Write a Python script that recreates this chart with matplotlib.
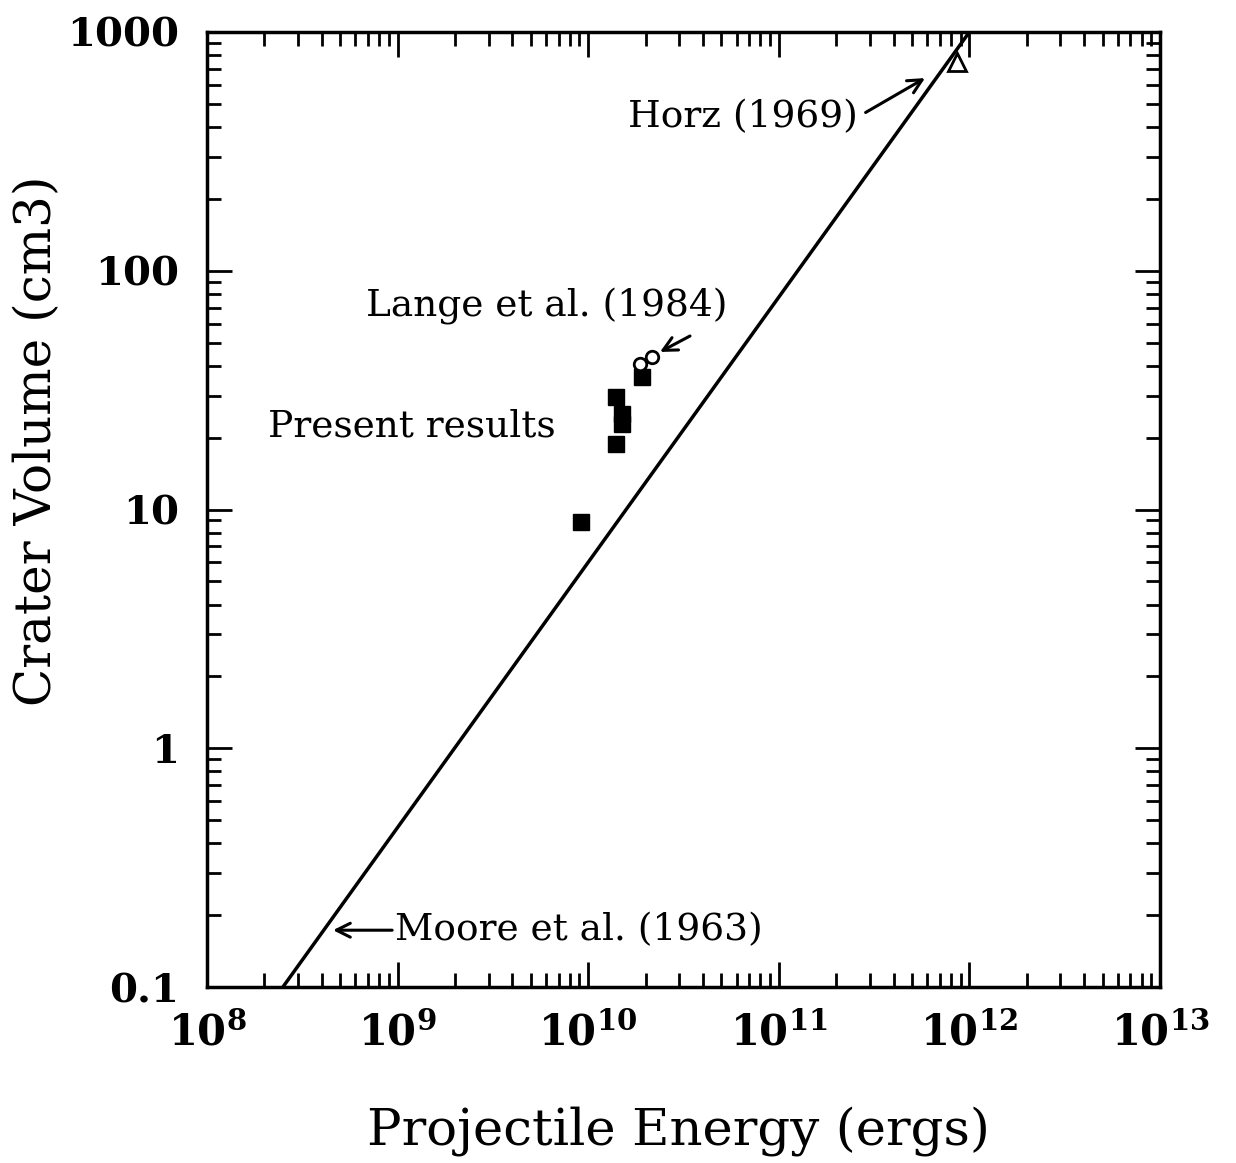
import numpy as np
import matplotlib
matplotlib.use('Agg')
import matplotlib.pyplot as plt
from matplotlib.ticker import LogLocator, FixedLocator, FixedFormatter, NullFormatter

plt.rcParams['font.family'] = 'DejaVu Serif'
plt.rcParams['mathtext.fontset'] = 'dejavuserif'

# present results (filled squares)
present_energy = [9.16e9, 1.40e10, 1.50e10, 1.50e10, 1.40e10, 1.91e10]
present_volume = [8.86, 29.7, 25.1, 22.8, 18.8, 36.0]

# Lange et al. (1984) (open circles)
lange_energy = [1.87e10, 2.15e10]
lange_volume = [40.6, 43.6]

# Horz (1969) (open triangle)
horz_energy = [8.6e11]
horz_volume = [750]

# Moore et al. (1963) line
moore_energy = [2.5e8, 1.0e12]
moore_volume = [0.1, 1000]

ytick_vals = [0.1, 1, 10, 100, 1000]
ytick_labels = ['0.1', '1', '10', '100', '1000']

fig = plt.figure(figsize=(12.36, 11.63), dpi=100)
ax = fig.add_axes([0.1675, 0.1513, 0.771, 0.8212])

ax.plot(moore_energy, moore_volume, color='black', lw=2.5, solid_capstyle='butt')
ax.plot(present_energy, present_volume, 's', color='black', ms=11)
ax.plot(lange_energy, lange_volume, 'o', mfc='white', mec='black', mew=2, ms=9)
ax.plot(horz_energy, horz_volume, '^', mfc='white', mec='black', mew=2, ms=13)

ax.set_xscale('log')
ax.set_yscale('log')
ax.set_xlim(1e8, 1e13)
ax.set_ylim(0.1, 1000)

ax.xaxis.set_major_locator(LogLocator(base=10, numticks=10))
ax.xaxis.set_minor_locator(LogLocator(base=10, subs=np.arange(2, 10), numticks=20))
ax.xaxis.set_minor_formatter(NullFormatter())
ax.yaxis.set_major_locator(FixedLocator(ytick_vals))
ax.yaxis.set_major_formatter(FixedFormatter(ytick_labels))
ax.yaxis.set_minor_locator(LogLocator(base=10, subs=np.arange(2, 10), numticks=20))
ax.yaxis.set_minor_formatter(NullFormatter())

ax.tick_params(which='both', direction='in', top=True, right=True, width=2, color='black')
ax.tick_params(which='major', length=18)
ax.tick_params(which='minor', length=10)
ax.tick_params(axis='x', which='major', labelsize=30, pad=18)
ax.tick_params(axis='y', which='major', labelsize=29, pad=20)
for lab in ax.get_yticklabels():
    lab.set_fontweight('bold')
for lab in ax.get_xticklabels():
    lab.set_fontweight('bold')
for sp in ax.spines.values():
    sp.set_linewidth(2.5)

ax.set_xlabel('Projectile Energy (ergs)', fontsize=37)
ax.set_ylabel('Crater Volume (cm3)', fontsize=36)
ax.xaxis.set_label_coords(0.495, -0.125)
ax.yaxis.set_label_coords(-0.152, 0.572)

tsize = 27
ax.annotate('Horz (1969)', xy=(5.85e11, 641), xytext=(1.62e10, 441),
            fontsize=tsize, va='center', ha='left',
            arrowprops=dict(arrowstyle='->', lw=2.2, color='black',
                            shrinkA=4, shrinkB=0,
                            relpos=(1.0, 0.5), mutation_scale=25))
ax.text(6.8e8, 70.5, 'Lange et al. (1984)', fontsize=tsize, va='center', ha='left')
ax.annotate('', xy=(2.38e10, 45.7), xytext=(3.42e10, 53.3),
            arrowprops=dict(arrowstyle='->', lw=2.2, color='black',
                            shrinkA=0, shrinkB=0, mutation_scale=25))
ax.text(2.09e8, 22.2, 'Present results', fontsize=tsize, va='center', ha='left')
ax.annotate('Moore et al. (1963)', xy=(4.58e8, 0.173), xytext=(9.68e8, 0.173),
            fontsize=tsize, va='center', ha='left',
            arrowprops=dict(arrowstyle='->', lw=2.2, color='black',
                            shrinkA=0, shrinkB=0,
                            relpos=(0.0, 0.5), mutation_scale=25))

fig.savefig('out.png', dpi=100)
plt.close()
